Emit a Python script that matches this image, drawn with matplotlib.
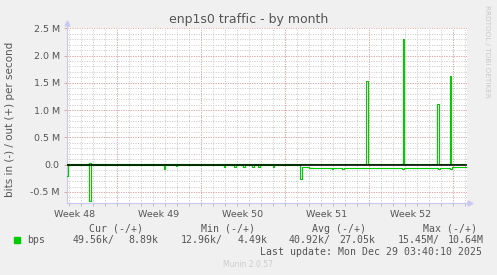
import numpy as np
import matplotlib
matplotlib.use("Agg")
import matplotlib.pyplot as plt

# days counted from Mon Dec 1 00:00, values in Mbit/s
out_days = [-4.17, -2.3, -2.17, 20.8, 20.92, 23.82, 23.96, 26.72, 26.84, 27.74, 27.88, 29.1]
out_vals = [0.012, 0.04, 0.012, 1.54, 0.015, 2.30, 0.015, 1.11, 0.015, 1.63, 0.012, 0.012]

in_days = [-4.17, -4.05, -2.3, -2.17, 3.9, 4.0, 4.9, 5.0, 8.9, 9.0, 9.8, 9.9,
           10.55, 10.65, 11.3, 11.4, 11.8, 11.9, 13.0, 13.1, 15.3, 15.42, 16.0,
           17.9, 18.0, 18.8, 18.9, 21.5, 23.8, 23.9, 26.8, 26.9, 27.8, 27.9, 29.1]
in_vals = [-0.21, -0.012, -0.67, -0.012, -0.08, -0.012, -0.03, -0.012, -0.035, -0.012,
           -0.035, -0.012, -0.035, -0.012, -0.035, -0.012, -0.035, -0.012, -0.035,
           -0.012, -0.26, -0.05, -0.065, -0.075, -0.06, -0.07, -0.055, -0.06, -0.07,
           -0.055, -0.07, -0.055, -0.07, -0.05, -0.05]

week_starts = [-7, 0, 7, 14, 21, 28]
week_labels = ["Week 48", "Week 49", "Week 50", "Week 51", "Week 52"]
ytick_vals = [-0.5, 0.0, 0.5, 1.0, 1.5, 2.0, 2.5]
ytick_labels = ["-0.5 M", "0.0", "0.5 M", "1.0 M", "1.5 M", "2.0 M", "2.5 M"]

legend_header = ["Cur (-/+)", "Min (-/+)", "Avg (-/+)", "Max (-/+)"]
legend_values = ["49.56k/", "8.89k", "12.96k/", "4.49k", "40.92k/", "27.05k", "15.45M/", "10.64M"]

W, H = 497, 275
fig = plt.figure(figsize=(W / 100, H / 100), dpi=100, facecolor="#f0f0f0")

def fx(x):
    return x / W

def fy(y):
    return 1 - y / H

ax = fig.add_axes([fx(66.7), fy(202.9), (466.5 - 66.7) / W, (202.9 - 28.3) / H])
ax.set_facecolor("white")
ax.set_xlim(-4.17, 29.15)
ax.set_ylim(-0.7, 2.5)

# grid
grey = "#c8c8c8"
red = "#e8a0a0"
for d in np.arange(-4, 30):
    ax.axvline(d, color=grey, lw=0.7, ls=(0, (1, 1.5)), zorder=1)
for v in np.arange(-0.6, 2.5, 0.1):
    ax.axhline(v, color=grey, lw=0.7, ls=(0, (1, 1.5)), zorder=1)
for d in week_starts[1:]:
    ax.axvline(d, color=red, lw=0.7, ls=(0, (1, 1.5)), zorder=2)
for v in ytick_vals:
    ax.axhline(v, color=red, lw=0.7, ls=(0, (1, 1.5)), zorder=2)

ax.plot(in_days, in_vals, color="#00cc00", lw=0.8, drawstyle="steps-post", zorder=4)
ax.plot(out_days, out_vals, color="#00cc00", lw=0.8, drawstyle="steps-post", zorder=4)
ax.plot([-4.17, 29.1], [0, 0], color="black", lw=1.1, zorder=5)

# axes look
for s in ["top", "right"]:
    ax.spines[s].set_visible(False)
for s in ["left", "bottom"]:
    ax.spines[s].set_color("#c8c8f0")
    ax.spines[s].set_linewidth(0.8)
ax.plot([0, 0], [1, 1.03], color="#c8c8f0", lw=0.8, transform=ax.transAxes, clip_on=False)
ax.plot([0], [1.03], marker="^", ms=3.5, color="#c8c8f0", transform=ax.transAxes, clip_on=False)
ax.plot([1, 1.01], [0, 0], color="#c8c8f0", lw=0.8, transform=ax.transAxes, clip_on=False)
ax.plot([1.01], [0], marker=">", ms=3.5, color="#c8c8f0", transform=ax.transAxes, clip_on=False)

ax.set_yticks(ytick_vals)
ax.set_yticklabels(ytick_labels)
ax.set_xticks([d + 3.5 for d in week_starts[:-1]])
ax.set_xticklabels(week_labels)
ax.tick_params(axis="x", length=0, pad=5, labelsize=6.8, labelcolor="#555555")
ax.tick_params(axis="y", length=2, width=0.7, color="#e8a0a0", pad=3, labelsize=6.8, labelcolor="#555555")
ax.set_xticks(np.arange(-4, 30), minor=True)
ax.tick_params(axis="x", which="minor", length=2, width=0.7, color="#bbbbbb")

fig.text(0.5, fy(20), "enp1s0 traffic - by month", ha="center", va="center",
         fontsize=9, color="#555555")
fig.text(fx(10), fy(119), "bits in (-) / out (+) per second", rotation=90,
         ha="center", va="center", fontsize=7.5, color="#555555")
fig.text(fx(487), fy(5), "RRDTOOL / TOBI OETIKER", rotation=270, ha="center", va="top",
         fontsize=5.2, color="#c8c8c8")

mono = "DejaVu Sans Mono"
for x, t in zip([89.3, 201, 311.7, 422.7], legend_header):
    fig.text(fx(x), fy(228.5), t, family=mono, fontsize=7.1, va="center", color="#555555")
fig.patches.append(plt.Rectangle((fx(14), fy(243)), 6 / W, 6 / H, color="#00cc00",
                                 transform=fig.transFigure, figure=fig))
fig.text(fx(26.7), fy(240), "bps", family=mono, fontsize=7.1, va="center", color="#555555")
for x, t in zip([72.3, 128.3, 180.3, 237.3, 289, 339.3, 397.3, 447.3], legend_values):
    fig.text(fx(x), fy(240), t, family=mono, fontsize=7.1, va="center", color="#555555")
fig.text(fx(482.3), fy(251.7), "Last update: Mon Dec 29 03:40:10 2025", family=mono,
         fontsize=7.1, va="center", ha="right", color="#555555")
fig.text(fx(248), fy(264.3), "Munin 2.0.57", fontsize=5.5, ha="center", va="center",
         color="#cccccc")

fig.savefig("out.png", dpi=100, facecolor=fig.get_facecolor())
